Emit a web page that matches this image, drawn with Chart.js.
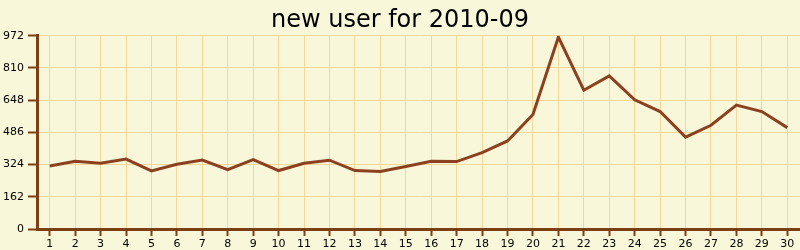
<!DOCTYPE html>
<html>
<head>
<meta charset="utf-8">
<script src="https://cdn.jsdelivr.net/npm/chart.js@4/dist/chart.umd.min.js"></script>
<style>
  html, body { margin: 0; padding: 0; background: #f9f7d9; }
  #wrap { width: 800px; height: 250px; }
</style>
</head>
<body>
<div id="wrap"><canvas id="userChart" width="800" height="250"></canvas></div>
<script>
// days of the month
const days = ['1','2','3','4','5','6','7','8','9','10','11','12','13','14','15',
  '16','17','18','19','20','21','22','23','24','25','26','27','28','29','30'];

// new users per day
const newUsers = [317, 341, 331, 352, 292, 326, 347, 299, 349, 294, 331, 346, 294, 289, 314,
  341, 339, 384, 443, 576, 966, 698, 770, 650, 591, 462, 522, 623, 591, 510];

const yTicks = [0, 162, 324, 486, 648, 810, 972];

const axisColor = '#7b3f12';
const gridColor = '#f3d898';
const lineColor = '#8b4120';
const font = { family: 'DejaVu Sans', size: 11 };

new Chart(document.getElementById('userChart'), {
  type: 'line',
  data: {
    labels: days,
    datasets: [{
      label: 'new user',
      data: newUsers,
      borderColor: lineColor,
      borderWidth: 3,
      pointRadius: 0,
      tension: 0,
      fill: false
    }]
  },
  options: {
    responsive: false,
    animation: false,
    layout: { padding: 0 },
    plugins: {
      legend: { display: false },
      tooltip: { enabled: false },
      title: {
        display: true,
        text: 'new user for 2010-09',
        color: '#000',
        font: { family: 'DejaVu Sans', size: 24, weight: 'normal' },
        padding: { top: 6, bottom: 1 }
      }
    },
    scales: {
      x: {
        offset: true,
        grid: { offset: false, color: gridColor, tickColor: axisColor, tickLength: 7, tickWidth: 2, lineWidth: 1 },
        border: { color: axisColor, width: 3 },
        ticks: { color: '#000', font: font, padding: 2, maxRotation: 0, autoSkip: false },
        afterFit: s => { s.height = 21; }
      },
      y: {
        min: 0,
        max: 972,
        afterBuildTicks: s => { s.ticks = yTicks.map(v => ({ value: v })); },
        grid: { color: gridColor, tickColor: axisColor, tickLength: 9, tickWidth: 2, lineWidth: 1 },
        border: { color: axisColor, width: 3 },
        ticks: { color: '#000', font: font, padding: 4 },
        afterFit: s => { s.width = 37; }
      }
    }
  }
});
</script>
</body>
</html>
